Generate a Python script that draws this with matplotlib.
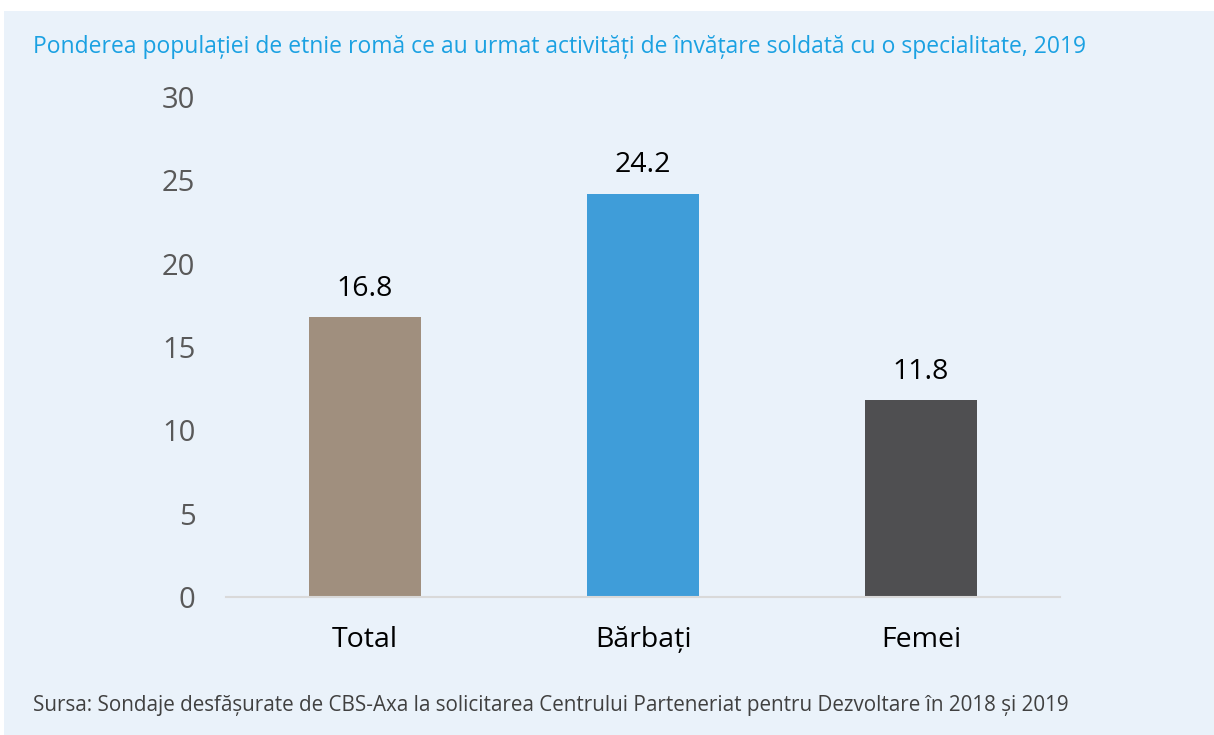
import matplotlib.pyplot as plt
from matplotlib.patches import Rectangle

categories = ['Total', 'Bărbați', 'Femei']
values = [16.8, 24.2, 11.8]
bar_colors = ['#A08F7E', '#3F9DD9', '#4F4F51']
yticks = [0, 5, 10, 15, 20, 25, 30]

title = 'Ponderea populației de etnie romă ce au urmat activități de învățare soldată cu o specialitate, 2019'
source = 'Sursa: Sondaje desfășurate de CBS-Axa la solicitarea Centrului Parteneriat pentru Dezvoltare în 2018 și 2019'

plt.rcParams['font.family'] = ['Open Sans', 'DejaVu Sans']

W, H = 1214, 735
fig = plt.figure(figsize=(W / 100, H / 100), dpi=100)
fig.patch.set_facecolor('white')
fig.patches.append(Rectangle((4 / W, 0), 1 - 4 / W, 1 - 11 / H, transform=fig.transFigure,
                             facecolor='#EAF2FA', edgecolor='none', zorder=-5))

ax = fig.add_axes([226 / W, 1 - 597 / H, (1060 - 226) / W, (597 - 97) / H])
ax.set_facecolor('none')

x = range(len(categories))
bars = ax.bar(x, values, width=0.4, color=bar_colors, zorder=2)
for xi, v in zip(x, values):
    ax.text(xi, v + 0.85, f'{v:.1f}', ha='center', va='bottom', fontsize=20.5, color='black')

ax.set_xlim(-0.5, 2.5)
ax.set_ylim(0, 30)
ax.set_yticks(yticks)
ax.set_xticks(list(x))
ax.set_xticklabels(categories, fontsize=20.5, color='black')
ax.tick_params(axis='y', labelsize=21, labelcolor='#595959', length=0, pad=22)
ax.tick_params(axis='x', length=0, pad=21)
for s in ['top', 'right', 'left']:
    ax.spines[s].set_visible(False)
ax.spines['bottom'].set_color('#D9D9D9')
ax.spines['bottom'].set_linewidth(1.5)

fig.text(33 / W, 1 - 47 / H, title, ha='left', va='center', fontsize=16.5, color='#1BA1E2')
fig.text(33 / W, 1 - 706 / H, source, ha='left', va='center', fontsize=14.9, color='#404040')

fig.savefig('out.png', dpi=100)
